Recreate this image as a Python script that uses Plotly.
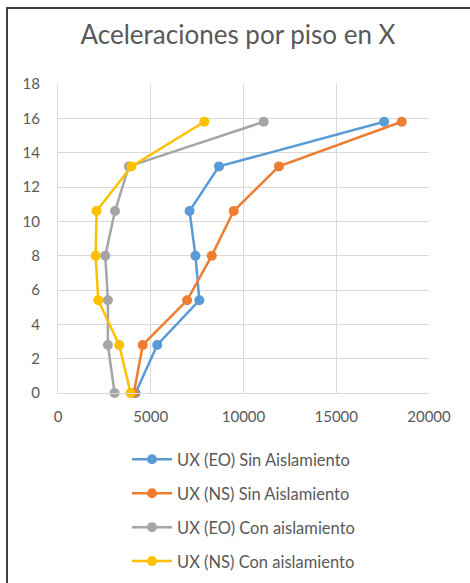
import plotly.graph_objects as go

# Floor heights (m) and lateral accelerations per floor
niveles = [0, 2.8, 5.4, 8.0, 10.6, 13.2, 15.8]
ux_eo_sin = [4180, 5350, 7620, 7410, 7090, 8680, 17580]
ux_ns_sin = [4090, 4570, 6960, 8290, 9470, 11910, 18530]
ux_eo_con = [3050, 2690, 2690, 2550, 3070, 3820, 11090]
ux_ns_con = [3910, 3300, 2170, 2030, 2080, 3960, 7890]

nombres = [
    "UX (EO) Sin Aislamiento",
    "UX (NS) Sin Aislamiento",
    "UX (EO) Con aislamiento",
    "UX (NS) Con aislamiento",
]
colores = ["#5B9BD5", "#ED7D31", "#A5A5A5", "#FFC000"]
series = [ux_eo_sin, ux_ns_sin, ux_eo_con, ux_ns_con]

FONT = "Lato"
GRIS = "#595959"

fig = go.Figure()
for nombre, color, xs in zip(nombres, colores, series):
    fig.add_trace(go.Scatter(
        x=xs, y=niveles, name=nombre, mode="lines+markers",
        line=dict(color=color, width=2.5),
        marker=dict(color=color, size=10, symbol="circle"),
        cliponaxis=False, legendgroup=nombre,
    ))

W, H = 470, 583
L, R, T, B = 58, 41, 84, 190
pw, ph = W - L - R, H - T - B


def px(xp):
    return (xp - L) / pw


def py(yp):
    return (H - B - yp) / ph


fig.update_layout(
    width=W, height=H,
    margin=dict(l=L, r=R, t=T, b=B, autoexpand=False),
    paper_bgcolor="white", plot_bgcolor="white",
    font=dict(family=FONT, color=GRIS),
    title=dict(
        text="Aceleraciones por piso en X",
        x=238 / W, xanchor="center",
        y=1 - 35 / H, yanchor="middle", yref="container",
        font=dict(family=FONT, size=26, color=GRIS),
    ),
    xaxis=dict(
        range=[0, 20000], dtick=5000, tick0=0, tickformat="d",
        showgrid=True, gridcolor="#D9D9D9", gridwidth=1,
        zeroline=False, showline=True, linecolor="#D9D9D9", ticks="",
        ticklabelstandoff=10,
        tickfont=dict(family=FONT, size=15, color=GRIS),
        fixedrange=True,
    ),
    yaxis=dict(
        range=[0, 18], dtick=2, tick0=0,
        showgrid=True, gridcolor="#D9D9D9", gridwidth=1,
        zeroline=False, showline=True, linecolor="#D9D9D9",
        ticks="", ticklabelstandoff=14,
        tickfont=dict(family=FONT, size=15, color=GRIS),
        fixedrange=True,
    ),
    legend=dict(
        x=px(127), xanchor="left",
        y=py(442), yanchor="top",
        orientation="v", tracegroupgap=9.5, itemwidth=40,
        font=dict(family=FONT, size=16.5, color=GRIS),
        bgcolor="rgba(0,0,0,0)",
    ),
    showlegend=True,
)

# Chart frame: dark top and left edges
fig.add_shape(
    type="path", xref="paper", yref="paper",
    path=f"M {px(7)} {py(H + 5)} L {px(7)} {py(8)} L {px(W + 5)} {py(8)}",
    line=dict(color="#404040", width=2),
)

fig.write_html("out.html")
